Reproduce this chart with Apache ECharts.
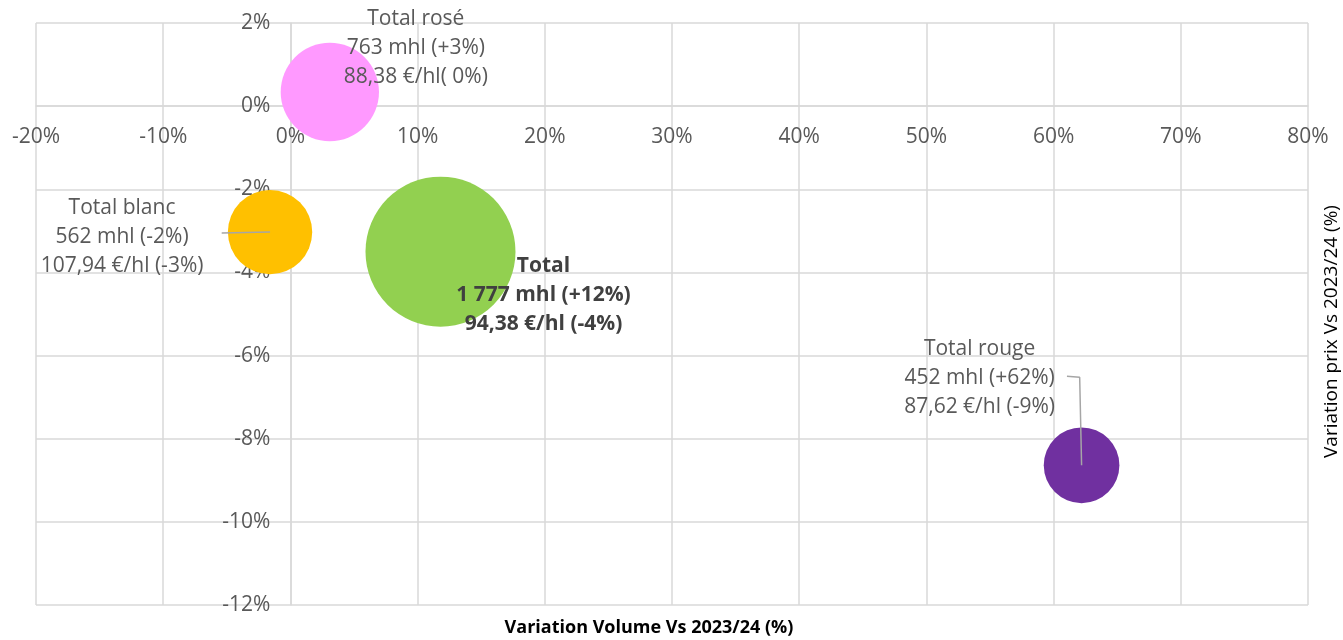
<!DOCTYPE html>
<html>
<head>
<meta charset="utf-8">
<script src="https://cdn.jsdelivr.net/npm/echarts@6/dist/echarts.min.js"></script>
<style>
  html, body { margin: 0; padding: 0; background: #fff; }
  #chart { width: 1343px; height: 640px; }
</style>
</head>
<body>
<div id="chart"></div>
<script>
// bubble data (variation volume %, variation prix %, volume mhl)
const names = ['Total rosé', 'Total blanc', 'Total', 'Total rouge']
const volVar = [3.1, -1.6, 11.8, 62.2]
const priceVar = [0.34, -3.03, -3.5, -8.64]
const volumes = [763, 562, 1777, 452]
const colors = ['#ff99ff', '#ffc000', '#92d050', '#7030a0']
const labelTexts = [
  ['Total rosé', '763 mhl (+3%)', '88,38 €/hl( 0%)'],
  ['Total blanc', '562 mhl (-2%)', '107,94 €/hl (-3%)'],
  ['Total', '1 777 mhl (+12%)', '94,38 €/hl (-4%)'],
  ['Total rouge', '452 mhl (+62%)', '87,62 €/hl (-9%)']
]
// leader lines, in axis units
const blancLeader = [[-5.4, -3.05], [-1.6, -3.03]]
const rougeLeader = [[61.05, -6.5], [62.05, -6.52], [62.2, -8.64]]

const labelOffsets = [[86, -44], [-148, 5], [103, 43], [-102, -87]]
const maxSize = 150
const gridBox = { left: 36, right: 35, top: 23, bottom: 35 }

const chart = echarts.init(document.getElementById('chart'))

const bubbleData = names.map((n, i) => ({
  name: n,
  value: [volVar[i], priceVar[i], volumes[i]],
  itemStyle: { color: colors[i], opacity: 1 },
  label: {
    offset: labelOffsets[i],
    fontWeight: i === 2 ? 'bold' : 'normal',
    color: i === 2 ? '#404040' : '#595959'
  }
}))

const leaderStyle = {
  type: 'line',
  symbol: 'none',
  silent: true,
  z: 5,
  lineStyle: { color: '#a6a6a6', width: 1.5 },
  animation: false
}

const axisCommon = {
  type: 'value',
  axisLine: { onZero: false, lineStyle: { color: '#d9d9d9', width: 1.5 } },
  axisTick: { show: false },
  splitLine: { lineStyle: { color: '#d9d9d9', width: 1.5 } },
  axisLabel: { formatter: v => v + '%', color: '#595959', fontSize: 21, margin: 20 }
}

const option = {
  animation: false,
  textStyle: { fontFamily: 'Open Sans' },
  grid: Object.assign({ containLabel: false, outerBoundsMode: 'none' }, gridBox),
  xAxis: Object.assign({ min: -20, max: 80, interval: 10, position: 'bottom' }, axisCommon),
  yAxis: Object.assign({ min: -12, max: 2, interval: 2, position: 'left' }, axisCommon),
  graphic: [
    {
      type: 'text', x: 649, y: 619,
      style: { text: 'Variation Volume Vs 2023/24 (%)', font: 'bold 18px "Open Sans"', fill: '#000', textAlign: 'center' }
    },
    {
      type: 'text', x: 1322, y: 458, rotation: Math.PI / 2,
      style: { text: 'Variation prix Vs 2023/24 (%)', font: '19px "Open Sans"', fill: '#000' }
    }
  ],
  series: [
    {
      type: 'scatter',
      data: bubbleData,
      symbolSize: d => maxSize * Math.sqrt(d[2] / 1777),
      z: 3,
      label: {
        show: true,
        position: 'inside',
        fontSize: 21,
        lineHeight: 29,
        align: 'center',
        verticalAlign: 'middle',
        formatter: p => labelTexts[p.dataIndex].join('\n')
      }
    },
    Object.assign({ data: blancLeader }, leaderStyle),
    Object.assign({ data: rougeLeader }, leaderStyle)
  ]
}

chart.setOption(option)

// move both axes so they cross at 0 / 0, like the original
const origin = chart.convertToPixel({ gridIndex: 0 }, [0, 0])
chart.setOption({
  xAxis: { offset: -((640 - gridBox.bottom) - origin[1]) },
  yAxis: { offset: -(origin[0] - gridBox.left) }
})
</script>
</body>
</html>
